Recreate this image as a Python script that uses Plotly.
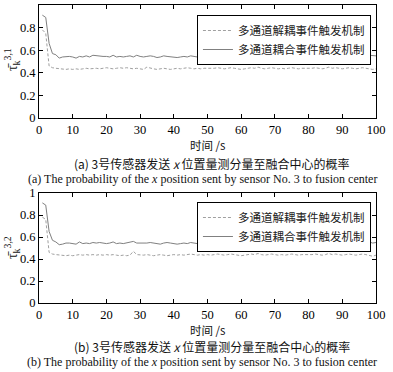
import plotly.graph_objects as go

t = list(range(1, 101))

# (a) sensor 3, component 1
a_coupled = [0.91, 0.89, 0.66, 0.57, 0.56, 0.53, 0.54, 0.545, 0.545, 0.54,
             0.53, 0.545, 0.54, 0.55, 0.54, 0.555, 0.55, 0.55, 0.545, 0.545,
             0.54, 0.555, 0.54, 0.545, 0.54, 0.545, 0.55, 0.54, 0.555, 0.545,
             0.54, 0.545, 0.55, 0.545, 0.535, 0.54, 0.55, 0.545, 0.54, 0.54,
             0.535, 0.54, 0.545, 0.54, 0.55, 0.545, 0.54, 0.545, 0.55, 0.54,
             0.545, 0.55, 0.54, 0.555, 0.545, 0.55, 0.545, 0.54, 0.545, 0.555,
             0.545, 0.55, 0.545, 0.54, 0.555, 0.545, 0.55, 0.545, 0.54, 0.55,
             0.545, 0.55, 0.545, 0.54, 0.55, 0.545, 0.54, 0.55, 0.545, 0.54,
             0.545, 0.54, 0.55, 0.545, 0.54, 0.57, 0.545, 0.545, 0.55, 0.55,
             0.545, 0.55, 0.545, 0.55, 0.555, 0.55, 0.545, 0.555, 0.55, 0.55]
a_decoupled = [0.78, 0.75, 0.46, 0.445, 0.44, 0.435, 0.435, 0.43, 0.435, 0.43,
               0.435, 0.43, 0.435, 0.44, 0.435, 0.44, 0.44, 0.435, 0.44, 0.445,
               0.44, 0.435, 0.44, 0.445, 0.44, 0.445, 0.44, 0.435, 0.44, 0.435,
               0.43, 0.45, 0.44, 0.435, 0.43, 0.435, 0.44, 0.435, 0.43, 0.435,
               0.44, 0.435, 0.44, 0.445, 0.44, 0.435, 0.44, 0.435, 0.44, 0.44,
               0.435, 0.44, 0.445, 0.44, 0.435, 0.44, 0.445, 0.44, 0.435, 0.43,
               0.435, 0.44, 0.445, 0.44, 0.45, 0.44, 0.435, 0.44, 0.445, 0.44,
               0.435, 0.44, 0.435, 0.44, 0.445, 0.44, 0.435, 0.44, 0.44, 0.435,
               0.44, 0.445, 0.44, 0.435, 0.44, 0.45, 0.44, 0.445, 0.44, 0.435,
               0.44, 0.445, 0.44, 0.435, 0.44, 0.445, 0.44, 0.435, 0.43, 0.435]

# (b) sensor 3, component 2
b_coupled = [0.91, 0.89, 0.65, 0.57, 0.555, 0.53, 0.535, 0.545, 0.545, 0.54,
             0.535, 0.555, 0.54, 0.545, 0.54, 0.55, 0.545, 0.55, 0.545, 0.54,
             0.545, 0.555, 0.54, 0.545, 0.54, 0.545, 0.55, 0.56, 0.545, 0.545,
             0.54, 0.545, 0.55, 0.545, 0.54, 0.535, 0.545, 0.55, 0.545, 0.54,
             0.535, 0.54, 0.545, 0.54, 0.55, 0.545, 0.54, 0.545, 0.55, 0.54,
             0.545, 0.55, 0.54, 0.555, 0.545, 0.55, 0.545, 0.54, 0.545, 0.555,
             0.545, 0.55, 0.545, 0.54, 0.555, 0.545, 0.55, 0.545, 0.54, 0.55,
             0.545, 0.55, 0.545, 0.54, 0.55, 0.545, 0.54, 0.55, 0.545, 0.54,
             0.545, 0.54, 0.55, 0.545, 0.54, 0.57, 0.545, 0.545, 0.55, 0.55,
             0.545, 0.55, 0.545, 0.55, 0.555, 0.55, 0.545, 0.555, 0.545, 0.55]
b_decoupled = [0.78, 0.76, 0.46, 0.445, 0.44, 0.435, 0.435, 0.43, 0.435, 0.43,
               0.435, 0.44, 0.435, 0.44, 0.435, 0.44, 0.435, 0.44, 0.435, 0.44,
               0.435, 0.44, 0.435, 0.43, 0.435, 0.43, 0.435, 0.47, 0.44, 0.435,
               0.435, 0.44, 0.435, 0.43, 0.435, 0.44, 0.435, 0.43, 0.435, 0.44,
               0.435, 0.44, 0.435, 0.44, 0.445, 0.44, 0.435, 0.44, 0.435, 0.44,
               0.435, 0.44, 0.445, 0.44, 0.435, 0.44, 0.445, 0.44, 0.435, 0.43,
               0.435, 0.44, 0.445, 0.44, 0.45, 0.44, 0.435, 0.44, 0.445, 0.44,
               0.435, 0.44, 0.435, 0.44, 0.445, 0.44, 0.435, 0.44, 0.44, 0.435,
               0.44, 0.445, 0.44, 0.435, 0.44, 0.45, 0.44, 0.445, 0.44, 0.435,
               0.44, 0.445, 0.44, 0.435, 0.44, 0.445, 0.44, 0.435, 0.425, 0.435]

names = ["多通道解耦事件触发机制", "多通道耦合事件触发机制"]
x_ticks = list(range(0, 101, 10))
y_ticks = [0, 0.2, 0.4, 0.6, 0.8, 1]
y_ticktext = ["0", "0.2", "0.4", "0.6", "0.8", "1"]

serif = "Liberation Serif"
cjk = "Noto Sans CJK SC"

fig = go.Figure()
dash_col = "#a0a0a0"
solid_col = "#808080"

fig.add_trace(go.Scatter(x=t, y=a_decoupled, mode="lines", name=names[0],
                         line=dict(color=dash_col, width=1, dash="3px,2px"),
                         xaxis="x", yaxis="y", legend="legend"))
fig.add_trace(go.Scatter(x=t, y=a_coupled, mode="lines", name=names[1],
                         line=dict(color=solid_col, width=1),
                         xaxis="x", yaxis="y", legend="legend"))
fig.add_trace(go.Scatter(x=t, y=b_decoupled, mode="lines", name=names[0],
                         line=dict(color=dash_col, width=1, dash="3px,2px"),
                         xaxis="x2", yaxis="y2", legend="legend2"))
fig.add_trace(go.Scatter(x=t, y=b_coupled, mode="lines", name=names[1],
                         line=dict(color=solid_col, width=1),
                         xaxis="x2", yaxis="y2", legend="legend2"))

PB = 303.0          # pixel row of the bottom plot's x axis
PH = PB - 5.0       # total plot-area height


def py(pix):
    return (PB - pix) / PH


top_dom = [py(118), 1.0]
bot_dom = [0.0, py(193)]

axis_common = dict(showline=True, linecolor="black", linewidth=1, mirror="ticks",
                   ticks="inside", ticklen=4, tickcolor="black", showgrid=False,
                   zeroline=False, automargin=False,
                   tickfont=dict(family=serif, size=12.5, color="black"))

legend_common = dict(xanchor="right", yanchor="top", bgcolor="white",
                     bordercolor="black", borderwidth=1,
                     font=dict(family=cjk, size=11.5, color="#222"),
                     tracegroupgap=0, itemwidth=30)

fig.update_layout(
    width=393, height=372,
    margin=dict(l=39, r=17, t=5, b=372 - PB),
    paper_bgcolor="white", plot_bgcolor="white",
    showlegend=True,
    xaxis=dict(domain=[0, 1], range=[0, 100], tickvals=x_ticks, anchor="y", **axis_common),
    yaxis=dict(domain=top_dom, range=[0, 1], tickvals=y_ticks, ticktext=y_ticktext,
               anchor="x", **axis_common),
    xaxis2=dict(domain=[0, 1], range=[0, 100], tickvals=x_ticks, anchor="y2", **axis_common),
    yaxis2=dict(domain=bot_dom, range=[0, 1], tickvals=y_ticks, ticktext=y_ticktext,
                anchor="x2", **axis_common),
    legend=dict(x=0.985, y=py(15), **legend_common),
    legend2=dict(x=0.985, y=py(202), **legend_common),
)


def ann(text, x, y, font, size, **kw):
    fig.add_annotation(text=text, x=x, y=y, xref="paper", yref="paper",
                       showarrow=False, font=dict(family=font, size=size, color="#111"), **kw)


# y-axis labels
ann("τ\u0304<sub>k</sub><sup>3,1</sup>", -0.08, py(60), serif, 14, textangle=-90, xanchor="center", yanchor="middle")
ann("τ\u0304<sub>k</sub><sup>3,2</sup>", -0.08, py(248), serif, 14, textangle=-90, xanchor="center", yanchor="middle")

# x-axis titles
ann("时间 /s", 0.5, py(145), cjk, 11.5, xanchor="center", yanchor="middle")
ann("时间 /s", 0.5, py(330), cjk, 11.5, xanchor="center", yanchor="middle")

# captions
ann("(a) 3号传感器发送 <i>x</i> 位置量测分量至融合中心的概率", (212 - 39) / 337, py(163), cjk, 12,
    xanchor="center", yanchor="middle")
ann("(a) The probability of the <i>x</i> position sent by sensor No. 3 to fusion center",
    (202 - 39) / 337, py(179), serif, 12, xanchor="center", yanchor="middle")
ann("(b) 3号传感器发送 <i>x</i> 位置量测分量至融合中心的概率", (212 - 39) / 337, py(346), cjk, 12,
    xanchor="center", yanchor="middle")
ann("(b) The probability of the <i>x</i> position sent by sensor No. 3 to fusion center",
    (202 - 39) / 337, py(362), serif, 12, xanchor="center", yanchor="middle")

fig.write_html("out.html", config={"displayModeBar": False},
               post_script="document.body.style.margin='0';document.body.style.overflow='hidden';")
